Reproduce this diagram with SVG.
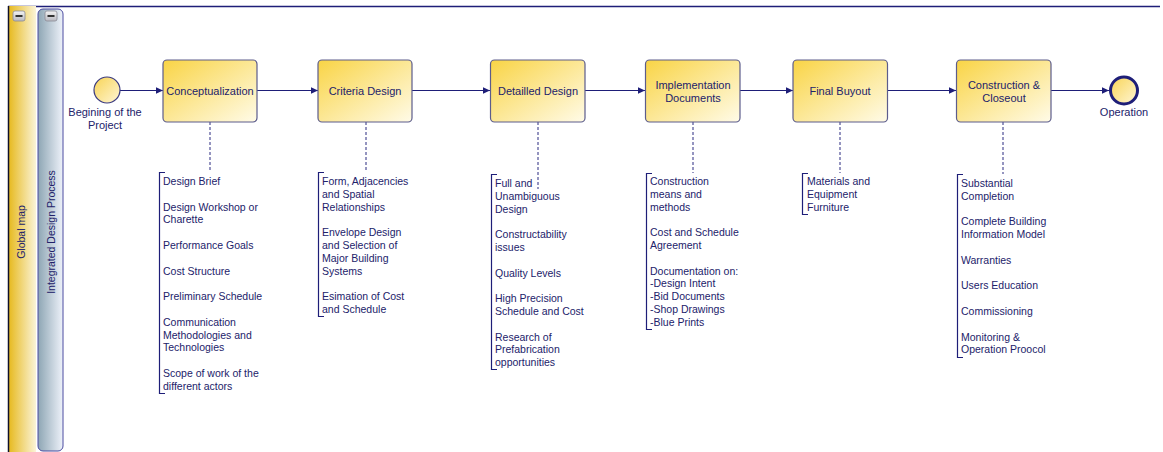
<svg xmlns="http://www.w3.org/2000/svg" width="1163" height="452" viewBox="0 0 1163 452">
<defs>
<linearGradient id="gBox" x1="0" y1="0" x2="1" y2="1">
<stop offset="0" stop-color="#f9d445"/>
<stop offset="1" stop-color="#fffbe8"/>
</linearGradient>
<linearGradient id="gCirc" x1="0" y1="0" x2="1" y2="1">
<stop offset="0" stop-color="#f8d455"/>
<stop offset="1" stop-color="#fff6d6"/>
</linearGradient>
<linearGradient id="gLane" x1="0" y1="0" x2="1" y2="0">
<stop offset="0" stop-color="#e6b81a"/>
<stop offset="1" stop-color="#fbf4d8"/>
</linearGradient>
<linearGradient id="gPool" x1="0" y1="0" x2="1" y2="0">
<stop offset="0" stop-color="#8ea6b4"/>
<stop offset="1" stop-color="#eef2fa"/>
</linearGradient>
<linearGradient id="gBtn" x1="0" y1="0" x2="0" y2="1">
<stop offset="0" stop-color="#f4f4f4"/>
<stop offset="1" stop-color="#b8b8c0"/>
</linearGradient>
<marker id="arr" markerWidth="8" markerHeight="8" refX="7" refY="4" orient="auto" markerUnits="userSpaceOnUse">
<path d="M0,0.8 L7,4 L0,7.2 Z" fill="#1e1e78"/>
</marker>
<style>
.box{fill:url(#gBox);stroke:#5c5c8c;stroke-width:1.2}
.lbl{font-family:"Liberation Sans",Arial,sans-serif;font-size:11px;fill:#22226a;text-anchor:middle}
.ann{font-family:"Liberation Sans",Arial,sans-serif;font-size:10.5px;fill:#22226a}
.flow{stroke:#1e1e78;stroke-width:1.2;fill:none}
.dash{stroke:#2a2a80;stroke-width:1;stroke-dasharray:3,2;fill:none}
.brk{stroke:#1e1e78;stroke-width:1.2;fill:none}
.btn{fill:url(#gBtn);stroke:#8a8a96;stroke-width:0.8}
</style>
</defs>
<rect width="1163" height="452" fill="#ffffff"/>
<g id="pool">
<line x1="8" y1="6.5" x2="1160" y2="6.5" stroke="#1e1e78" stroke-width="1.5"/>
<rect x="8" y="6" width="28" height="446" fill="url(#gLane)"/>
<line x1="8.5" y1="6" x2="8.5" y2="452" stroke="#10102a" stroke-width="1.5"/>
<rect class="btn" x="13" y="11" width="12" height="10" rx="2"/>
<rect x="15.5" y="15" width="7" height="2" fill="#333"/>
<text transform="translate(25,232) rotate(-90)" class="lbl" style="font-size:10.5px">Global map</text>
</g>
<g id="lane">
<rect x="38" y="9" width="25" height="442" rx="5" fill="url(#gPool)" stroke="#4a4aa0" stroke-width="1"/>
<rect class="btn" x="45" y="11" width="12" height="10" rx="2"/>
<rect x="47.5" y="15" width="7" height="2" fill="#333"/>
<text transform="translate(55,232) rotate(-90)" class="lbl" style="font-size:10.5px">Integrated Design Process</text>
</g>
<g id="connectors">
<line class="flow" x1="120" y1="90.5" x2="163" y2="90.5" marker-end="url(#arr)"/>
<line class="flow" x1="257" y1="90.5" x2="318" y2="90.5" marker-end="url(#arr)"/>
<line class="flow" x1="412" y1="90.5" x2="490" y2="90.5" marker-end="url(#arr)"/>
<line class="flow" x1="585" y1="90.5" x2="645" y2="90.5" marker-end="url(#arr)"/>
<line class="flow" x1="740" y1="90.5" x2="793" y2="90.5" marker-end="url(#arr)"/>
<line class="flow" x1="887" y1="90.5" x2="956" y2="90.5" marker-end="url(#arr)"/>
<line class="flow" x1="1051" y1="90.5" x2="1109" y2="90.5" marker-end="url(#arr)"/>
<line class="dash" x1="210" y1="122" x2="210" y2="172"/>
<line class="dash" x1="366" y1="122" x2="366" y2="172"/>
<line class="dash" x1="538" y1="122" x2="538" y2="189"/>
<line class="dash" x1="693" y1="122" x2="693" y2="173"/>
<line class="dash" x1="840" y1="122" x2="840" y2="173"/>
<line class="dash" x1="1003" y1="122" x2="1003" y2="174"/>
</g>
<g id="start">
<circle cx="107" cy="90" r="13" fill="url(#gCirc)" stroke="#3a3a80" stroke-width="1.2"/>
<text class="lbl" x="105" y="116">Begining of the</text>
<text class="lbl" x="105" y="129">Project</text>
</g>
<g id="conceptualization">
<rect class="box" x="163" y="60" width="94" height="62" rx="4"/>
<text class="lbl" x="210" y="95">Conceptualization</text>
</g>
<g id="criteria">
<rect class="box" x="318" y="60" width="94" height="62" rx="4"/>
<text class="lbl" x="365" y="95">Criteria Design</text>
</g>
<g id="detailled">
<rect class="box" x="490.5" y="60" width="94.5" height="62" rx="4"/>
<text class="lbl" x="538" y="95">Detailled Design</text>
</g>
<g id="implementation">
<rect class="box" x="645.5" y="60" width="94.5" height="62" rx="4"/>
<text class="lbl" x="693" y="89">Implementation</text>
<text class="lbl" x="693" y="102">Documents</text>
</g>
<g id="buyout">
<rect class="box" x="793" y="60" width="94.5" height="62" rx="4"/>
<text class="lbl" x="840" y="95">Final Buyout</text>
</g>
<g id="construction">
<rect class="box" x="956.5" y="60" width="94.5" height="62" rx="4"/>
<text class="lbl" x="1004" y="89">Construction &amp;</text>
<text class="lbl" x="1004" y="102">Closeout</text>
</g>
<g id="end">
<circle cx="1124" cy="90.5" r="13.5" fill="url(#gCirc)" stroke="#1e1e78" stroke-width="3"/>
<text class="lbl" x="1124" y="116">Operation</text>
</g>
<g id="ann-conceptualization">
<path class="brk" d="M165,172.5 H159.5 V393.5 H165"/>
<text class="ann" x="163" y="185">Design Brief</text>
<text class="ann" x="163" y="210.6">Design Workshop or</text>
<text class="ann" x="163" y="223.4">Charette</text>
<text class="ann" x="163" y="249">Performance Goals</text>
<text class="ann" x="163" y="274.6">Cost Structure</text>
<text class="ann" x="163" y="300.2">Preliminary Schedule</text>
<text class="ann" x="163" y="325.8">Communication</text>
<text class="ann" x="163" y="338.6">Methodologies and</text>
<text class="ann" x="163" y="351.4">Technologies</text>
<text class="ann" x="163" y="377">Scope of work of the</text>
<text class="ann" x="163" y="389.8">different actors</text>
</g>
<g id="ann-criteria">
<path class="brk" d="M324,172.5 H318.5 V316.5 H324"/>
<text class="ann" x="322" y="185">Form, Adjacencies</text>
<text class="ann" x="322" y="197.8">and Spatial</text>
<text class="ann" x="322" y="210.6">Relationships</text>
<text class="ann" x="322" y="236.2">Envelope Design</text>
<text class="ann" x="322" y="249">and Selection of</text>
<text class="ann" x="322" y="261.8">Major Building</text>
<text class="ann" x="322" y="274.6">Systems</text>
<text class="ann" x="322" y="300.2">Esimation of Cost</text>
<text class="ann" x="322" y="313">and Schedule</text>
</g>
<g id="ann-detailled">
<path class="brk" d="M497,174.5 H491.5 V369.5 H497"/>
<text class="ann" x="495" y="187">Full and</text>
<text class="ann" x="495" y="199.8">Unambiguous</text>
<text class="ann" x="495" y="212.6">Design</text>
<text class="ann" x="495" y="238.2">Constructability</text>
<text class="ann" x="495" y="251">issues</text>
<text class="ann" x="495" y="276.6">Quality Levels</text>
<text class="ann" x="495" y="302.2">High Precision</text>
<text class="ann" x="495" y="315">Schedule and Cost</text>
<text class="ann" x="495" y="340.6">Research of</text>
<text class="ann" x="495" y="353.4">Prefabrication</text>
<text class="ann" x="495" y="366.2">opportunities</text>
</g>
<g id="ann-implementation">
<path class="brk" d="M652,173.5 H646.5 V329.5 H652"/>
<text class="ann" x="650" y="185">Construction</text>
<text class="ann" x="650" y="197.8">means and</text>
<text class="ann" x="650" y="210.6">methods</text>
<text class="ann" x="650" y="236.2">Cost and Schedule</text>
<text class="ann" x="650" y="249">Agreement</text>
<text class="ann" x="650" y="274.6">Documentation on:</text>
<text class="ann" x="650" y="287.4">-Design Intent</text>
<text class="ann" x="650" y="300.2">-Bid Documents</text>
<text class="ann" x="650" y="313">-Shop Drawings</text>
<text class="ann" x="650" y="325.8">-Blue Prints</text>
</g>
<g id="ann-buyout">
<path class="brk" d="M808,173.5 H802.5 V214.5 H808"/>
<text class="ann" x="807" y="185">Materials and</text>
<text class="ann" x="807" y="197.8">Equipment</text>
<text class="ann" x="807" y="210.6">Furniture</text>
</g>
<g id="ann-construction">
<path class="brk" d="M963,174.5 H957.5 V357.5 H963"/>
<text class="ann" x="961" y="187">Substantial</text>
<text class="ann" x="961" y="199.8">Completion</text>
<text class="ann" x="961" y="225.4">Complete Building</text>
<text class="ann" x="961" y="238.2">Information Model</text>
<text class="ann" x="961" y="263.8">Warranties</text>
<text class="ann" x="961" y="289.4">Users Education</text>
<text class="ann" x="961" y="315">Commissioning</text>
<text class="ann" x="961" y="340.6">Monitoring &amp;</text>
<text class="ann" x="961" y="353.4">Operation Proocol</text>
</g>
</svg>
